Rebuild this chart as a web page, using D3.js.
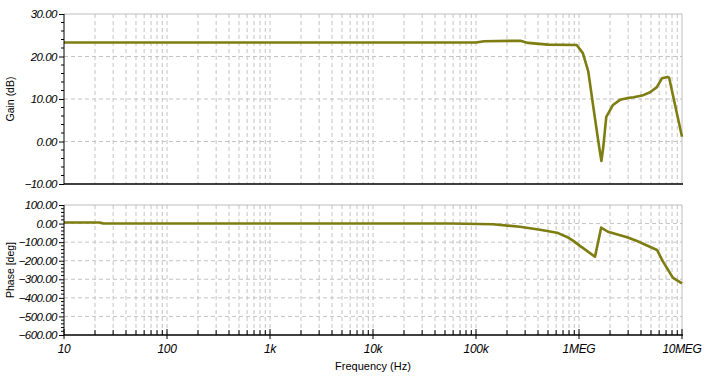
<!DOCTYPE html>
<html>
<head>
<meta charset="utf-8">
<script src="https://cdn.jsdelivr.net/npm/d3@7"></script>
<style>
  body { margin: 0; background: #fff; }
  svg { display: block; font-family: "Liberation Sans", Arial, sans-serif; }
</style>
</head>
<body>
<div class="root"></div>
<script>
// Bode plot data
const freqTicks = [10, 1e2, 1e3, 1e4, 1e5, 1e6, 1e7];
const freqLabels = ['10', '100', '1k', '10k', '100k', '1MEG', '10MEG'];

const gainFreq = [10, 1e5, 1.2e5, 2.7e5, 3.2e5, 5e5, 9.5e5, 1.09e6, 1.23e6, 1.38e6, 1.55e6, 1.65e6,
  1.72e6, 1.84e6, 2.14e6, 2.5e6, 2.93e6, 3.4e6, 4.1e6, 4.9e6, 5.7e6, 6.4e6, 7.2e6, 7.5e6, 1e7];
const gainDb = [23.3, 23.3, 23.6, 23.7, 23.2, 22.8, 22.7, 20.8, 16.5, 8.0, -0.4, -4.6,
  -1.3, 5.8, 8.6, 9.8, 10.2, 10.4, 10.8, 11.6, 12.8, 14.9, 15.2, 15.0, 1.1];
const gainTicks = [30, 20, 10, 0, -10];

const phaseFreq = [10, 22, 24, 5.6e4, 1.46e5, 2.67e5, 4.18e5, 6.11e5, 7.64e5, 8.75e5, 1.02e6, 1.09e6,
  1.43e6, 1.64e6, 1.91e6, 2.93e6, 3.66e6, 5.72e6, 6.54e6, 8.19e6, 1e7];
const phaseDeg = [6, 6, 1, 0, -4, -17, -33, -49, -72, -92, -120, -131,
  -179, -22, -44, -74, -94, -142, -205, -293, -322];
const phaseTicks = [100, 0, -100, -200, -300, -400, -500, -600];

const svgWidth = 713;
const svgHeight = 382;
const left = 64, right = 682;
const lineColor = '#7d7d12';
const gridColor = '#c4c4c4';

const svg = d3.select('.root')
  .append('svg')
  .attr('width', svgWidth)
  .attr('height', svgHeight);

const x = d3.scaleLog().domain([10, 1e7]).range([left, right]);

const fmt = d3.format('.2f');

// minor frequencies 2..9 per decade
const minorFreq = [];
for (let d = 10; d < 1e7; d *= 10) {
  for (let k = 2; k <= 9; k++) minorFreq.push(d * k);
}

function panel(top, bottom, domain, ticks, minorStep, label, xs, ys, showX) {
  const y = d3.scaleLinear().domain(domain).range([bottom, top]);
  const g = svg.append('g');

  // vertical grid
  g.selectAll('.vg')
    .data(minorFreq.concat(freqTicks.slice(1, -1)))
    .enter().append('line')
    .attr('x1', d => x(d)).attr('x2', d => x(d))
    .attr('y1', top).attr('y2', bottom)
    .attr('stroke', gridColor)
    .attr('stroke-dasharray', '4,3');

  // horizontal grid
  g.selectAll('.hg')
    .data(ticks.slice(1, -1))
    .enter().append('line')
    .attr('x1', left).attr('x2', right)
    .attr('y1', d => y(d)).attr('y2', d => y(d))
    .attr('stroke', gridColor)
    .attr('stroke-dasharray', '4,3');

  // frame: top and right grey
  g.append('path')
    .attr('d', `M${left},${y(domain[1])}H${right}V${y(domain[0])}`)
    .attr('fill', 'none')
    .attr('stroke', '#bdbdbd');

  // curve
  const line = d3.line()
    .x((d, i) => x(xs[i]))
    .y((d, i) => y(ys[i]));
  g.append('path')
    .attr('d', line(ys))
    .attr('fill', 'none')
    .attr('stroke', lineColor)
    .attr('stroke-width', 2.6)
    .attr('stroke-linejoin', 'round');

  // y axis
  const yAxis = g.append('g')
    .attr('transform', `translate(${left},0)`)
    .call(d3.axisLeft(y).tickValues(ticks).tickFormat(fmt).tickSize(5).tickPadding(2));
  yAxis.select('.domain').attr('stroke', '#000').attr('d', `M0,${top}V${bottom}`);
  yAxis.selectAll('text')
    .attr('font-size', 11.5)
    .attr('letter-spacing', -0.5)
    .attr('font-style', 'italic')
    .attr('fill', '#000');

  const minor = d3.range(domain[0], domain[1], minorStep).filter(v => !ticks.includes(v));
  yAxis.selectAll('.minor')
    .data(minor)
    .enter().append('line')
    .attr('x1', -3).attr('x2', 0)
    .attr('y1', d => y(d)).attr('y2', d => y(d))
    .attr('stroke', '#000');

  // bottom axis
  g.append('line')
    .attr('x1', left).attr('x2', right + 1)
    .attr('y1', bottom).attr('y2', bottom)
    .attr('stroke', '#000')
    .attr('stroke-width', 1.5);

  if (showX) {
    g.selectAll('.xmin')
      .data(minorFreq)
      .enter().append('line')
      .attr('x1', d => x(d)).attr('x2', d => x(d))
      .attr('y1', bottom - 5).attr('y2', bottom)
      .attr('stroke', '#000');
    g.selectAll('.xmaj')
      .data(freqTicks)
      .enter().append('line')
      .attr('x1', d => x(d)).attr('x2', d => x(d))
      .attr('y1', bottom - 6).attr('y2', bottom + 4)
      .attr('stroke', '#000');
    g.selectAll('.xlab')
      .data(freqTicks)
      .enter().append('text')
      .attr('x', d => x(d))
      .attr('y', bottom + 18)
      .attr('text-anchor', 'middle')
      .attr('font-size', 12)
      .attr('letter-spacing', -0.3)
      .attr('font-style', 'italic')
      .text((d, i) => freqLabels[i]);
  }

  g.append('text')
    .attr('transform', `translate(14,${(top + bottom) / 2}) rotate(-90)`)
    .attr('text-anchor', 'middle')
    .attr('font-size', 10.5)
    .text(label);
}

panel(14, 184, [-10, 30], gainTicks, 2, 'Gain (dB)', gainFreq, gainDb, false);
panel(205, 335, [-600, 100], phaseTicks, 20, 'Phase [deg]', phaseFreq, phaseDeg, true);

svg.append('text')
  .attr('x', (left + right) / 2)
  .attr('y', 370)
  .attr('text-anchor', 'middle')
  .attr('font-size', 11)
  .text('Frequency (Hz)');
</script>
</body>
</html>
